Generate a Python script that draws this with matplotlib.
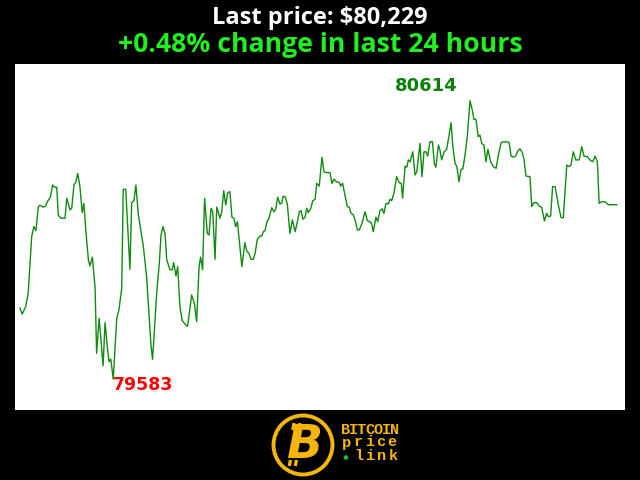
import matplotlib
matplotlib.use("Agg")
import matplotlib.pyplot as plt
from matplotlib.patches import Circle

# ---- data (hours into the 24h window, price in USD) ----
hours = [0.00, 0.09, 0.23, 0.33, 0.47, 0.56, 0.64, 0.74, 0.80, 0.94, 1.03, 1.10, 1.23, 1.31, 1.38, 1.48,
         1.54, 1.65, 1.81, 1.88, 2.01, 2.08, 2.17, 2.25, 2.32, 2.41, 2.50, 2.57, 2.65, 2.75, 2.81, 2.91,
         3.02, 3.08, 3.18, 3.24, 3.34, 3.42, 3.51, 3.58, 3.65, 3.75, 3.89, 3.98, 4.09, 4.15, 4.25, 4.42,
         4.49, 4.58, 4.66, 4.76, 4.96, 5.09, 5.27, 5.33, 5.50, 5.60, 5.67, 5.75, 5.83, 5.90, 6.03, 6.12,
         6.18, 6.27, 6.34, 6.43, 6.52, 6.70, 6.74, 6.90, 7.01, 7.10, 7.20, 7.26, 7.34, 7.42, 7.53, 7.60,
         7.68, 7.75, 7.84, 7.91, 8.04, 8.11, 8.19, 8.27, 8.35, 8.44, 8.52, 8.60, 8.67, 8.74, 8.92, 9.04,
         9.11, 9.21, 9.29, 9.38, 9.45, 9.54, 9.65, 9.72, 9.78, 9.85, 9.92, 10.02, 10.12, 10.21, 10.28, 10.36,
         10.45, 10.52, 10.58, 10.67, 10.75, 10.85, 10.95, 11.06, 11.15, 11.23, 11.30, 11.37, 11.46, 11.53, 11.59, 11.69,
         11.77, 11.86, 11.93, 12.03, 12.14, 12.22, 12.30, 12.46, 12.54, 12.62, 12.73, 12.84, 12.89, 12.97, 13.07, 13.16,
         13.24, 13.29, 13.40, 13.47, 13.56, 13.64, 13.74, 13.87, 13.96, 14.07, 14.14, 14.20, 14.31, 14.38, 14.47, 14.56,
         14.63, 14.71, 14.81, 14.87, 14.94, 15.03, 15.14, 15.24, 15.33, 15.38, 15.48, 15.55, 15.61, 15.68, 15.79, 15.88,
         15.95, 16.08, 16.16, 16.24, 16.32, 16.39, 16.48, 16.58, 16.66, 16.72, 16.82, 16.88, 16.95, 17.05, 17.15, 17.25,
         17.33, 17.40, 17.49, 17.56, 17.65, 17.73, 17.80, 17.89, 17.98, 18.09, 18.18, 18.25, 18.33, 18.42, 18.49, 18.56,
         18.65, 18.73, 18.81, 18.92, 19.03, 19.14, 19.23, 19.34, 19.43, 19.54, 19.66, 19.74, 19.83, 19.93, 20.01, 20.10,
         20.19, 20.26, 20.34, 20.50, 20.57, 20.66, 20.77, 20.86, 20.97, 21.08, 21.17, 21.24, 21.33, 21.41, 21.51, 21.64,
         21.75, 21.84, 21.98, 22.07, 22.15, 22.24, 22.34, 22.48, 22.58, 22.67, 22.81, 22.91, 23.02, 23.12, 23.21, 23.28,
         23.38, 23.52, 23.65, 23.99]

prices = [79846, 79824, 79852, 79901, 80111, 80148, 80133, 80222, 80227, 80220, 80224, 80240, 80259, 80302, 80294, 80294,
          80190, 80179, 80179, 80253, 80210, 80216, 80302, 80314, 80345, 80296, 80200, 80234, 80129, 80025, 80002, 80035,
          79920, 79679, 79809, 79747, 79632, 79793, 79704, 79648, 79657, 79583, 79809, 79840, 79920, 80286, 80286, 79990,
          80237, 80244, 80302, 80191, 80074, 79963, 79704, 79657, 79907, 80012, 80117, 80148, 80123, 80025, 79988, 79988,
          80015, 79965, 80000, 79852, 79800, 79780, 79780, 79895, 79864, 79796, 80000, 80035, 79988, 80253, 80123, 80117,
          80216, 80203, 80027, 80220, 80179, 80203, 80281, 80228, 80274, 80277, 80183, 80179, 80148, 80166, 80000, 80089,
          80059, 80047, 80027, 80027, 80049, 80101, 80113, 80113, 80129, 80133, 80163, 80183, 80218, 80203, 80212, 80257,
          80232, 80234, 80261, 80257, 80228, 80123, 80173, 80129, 80166, 80203, 80207, 80175, 80183, 80216, 80200, 80216,
          80244, 80249, 80308, 80298, 80405, 80351, 80348, 80348, 80308, 80323, 80314, 80311, 80298, 80308, 80261, 80222,
          80220, 80200, 80191, 80173, 80136, 80136, 80158, 80203, 80170, 80166, 80158, 80129, 80183, 80166, 80207, 80214,
          80197, 80234, 80232, 80249, 80244, 80271, 80333, 80311, 80308, 80253, 80372, 80368, 80395, 80388, 80425, 80339,
          80351, 80456, 80333, 80425, 80425, 80409, 80462, 80462, 80380, 80368, 80450, 80432, 80395, 80425, 80434, 80487,
          80533, 80444, 80382, 80370, 80314, 80360, 80361, 80413, 80481, 80614, 80580, 80545, 80545, 80481, 80487, 80456,
          80450, 80388, 80434, 80388, 80370, 80364, 80413, 80459, 80462, 80462, 80460, 80409, 80405, 80409, 80428, 80436,
          80422, 80397, 80335, 80333, 80222, 80237, 80237, 80224, 80220, 80169, 80197, 80185, 80187, 80296, 80296, 80228,
          80181, 80181, 80376, 80370, 80376, 80425, 80395, 80395, 80444, 80409, 80407, 80395, 80388, 80409, 80388, 80234,
          80240, 80240, 80229, 80229]

last_price_text = "Last price: $80,229"
change_text = "+0.48% change in last 24 hours"
logo_lines = ["BITCOIN", "price", "link"]

# ---- figure ----
fig = plt.figure(figsize=(6.4, 4.8), dpi=100, facecolor="black")
ax = fig.add_axes([15 / 640, 70 / 480, 610 / 640, 346 / 480])
ax.set_facecolor("white")
ax.plot(hours, prices, color="#108a10", lw=1.0)
ax.set_xlim(-0.20, 24.32)
ax.set_ylim(79469, 80750)
ax.set_xticks([])
ax.set_yticks([])
for s in ax.spines.values():
    s.set_visible(False)

imax = prices.index(max(prices))
imin = prices.index(min(prices))
ax.annotate(str(prices[imax]), (hours[imax], prices[imax]), xytext=(-44, 9.5),
            textcoords="offset pixels", ha="center", va="baseline",
            color="#0a7f0a", fontsize=13, fontweight="bold", family="DejaVu Sans")
ax.annotate(str(prices[imin]), (hours[imin], prices[imin]), xytext=(0, -11),
            textcoords="offset pixels", ha="left", va="baseline",
            color="#ff0000", fontsize=12.5, fontweight="bold", family="DejaVu Sans")

fig.text(0.5, 1 - 24 / 480, last_price_text, ha="center", va="baseline",
         color="white", fontsize=17, fontweight="bold", family="Open Sans")
fig.text(0.5, 1 - 52 / 480, change_text, ha="center", va="baseline",
         color="#22ee22", fontsize=19.2, fontweight="bold", family="Open Sans")

# ---- logo overlay ----
ov = fig.add_axes([0, 0, 1, 1], facecolor="none")
ov.set_xlim(0, 640)
ov.set_ylim(480, 0)
ov.axis("off")
gold = "#f5b50a"
ov.add_patch(Circle((303, 445), 29.5, fill=False, ec=gold, lw=2.8))
ov.text(305, 446, "B", ha="center", va="center", color=gold, fontsize=34,
        fontweight="heavy", style="italic", family="DejaVu Sans")
for bx in (294, 300):
    ov.plot([bx, bx - 1.2], [423, 430], color=gold, lw=2.4, solid_capstyle="butt")
    ov.plot([bx - 3.5, bx - 4.7], [460, 466], color=gold, lw=2.4, solid_capstyle="butt")

spacing = [8.2, 11.4, 11.4]
baselines = [433.5, 446.5, 460.5]
starts = [341, 341, 353]
for line, sp, bl, x0 in zip(logo_lines, spacing, baselines, starts):
    for i, ch in enumerate(line):
        ov.text(x0 + sp * (i + 0.5), bl, ch, ha="center", va="baseline", color=gold,
                fontsize=11, fontweight="bold", family="Liberation Mono")
ov.add_patch(Circle((346, 457.5), 1.6, color="#22bb22"))

fig.savefig("out.png", dpi=100, facecolor="black")
